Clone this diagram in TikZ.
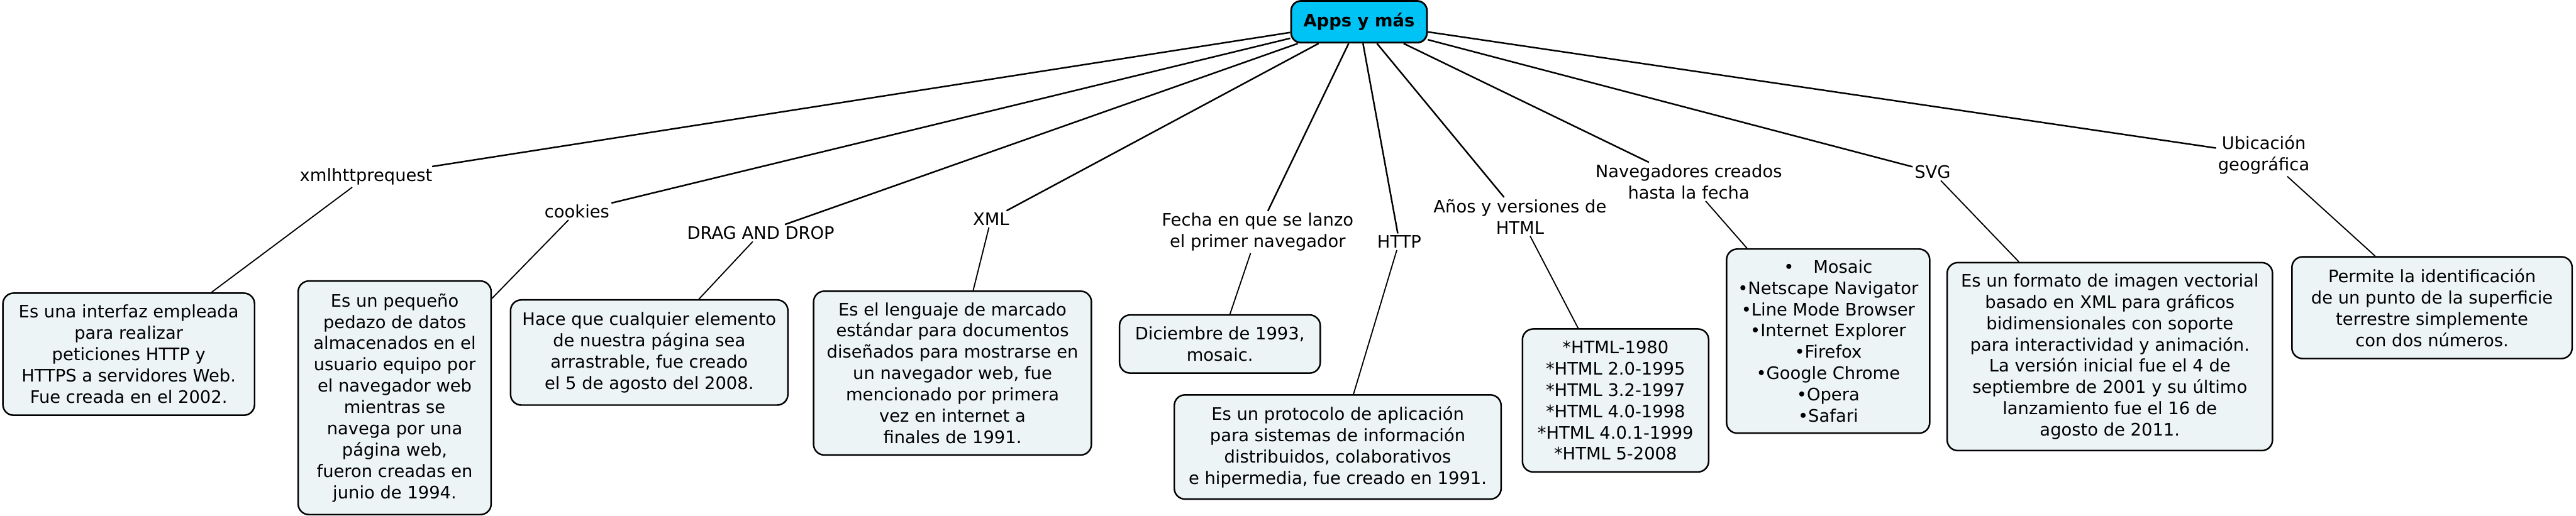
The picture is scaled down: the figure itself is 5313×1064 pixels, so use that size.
\documentclass[tikz,border=0pt]{standalone}
\usepackage{fontspec}
\setmainfont{DejaVu Sans}
\definecolor{boxfill}{RGB}{237,244,246}
\definecolor{rootfill}{RGB}{0,195,245}
\begin{document}
\begin{tikzpicture}[x=1pt,y=-1pt,
  every node/.style={font=\fontsize{35.5}{44}\selectfont, align=center},
  concept/.style={draw=black, line width=3.2pt, fill=boxfill, rounded corners=22pt, inner sep=0pt},
  rootbox/.style={draw=black, line width=3.6pt, fill=rootfill, rounded corners=20pt, inner sep=0pt,
    font=\fontsize{35.5}{44}\selectfont\bfseries, minimum width=280pt, minimum height=86pt},
  linklabel/.style={inner sep=4pt},
  upline/.style={line width=3.2pt},
  downline/.style={line width=2.4pt}]
\useasboundingbox (0,0) rectangle (5313,1064);

% root
\node[rootbox] (root) at (2803,45) {Apps y más};

% link labels
\node[linklabel] (l1) at (755,365) {xmlhttprequest};
\node[linklabel] (l2) at (1190,436) {cookies};
\node[linklabel] (l3) at (1569,481) {DRAG AND DROP};
\node[linklabel] (l4) at (2044,452) {XML};
\node[linklabel] (l5) at (2594,479) {Fecha en que se lanzo\\el primer navegador};
\node[linklabel] (l6) at (2886,499) {HTTP};
\node[linklabel] (l7) at (3135,447) {Años y versiones de\\HTML};
\node[linklabel] (l8) at (3483,375) {Navegadores creados\\hasta la fecha};
\node[linklabel] (l9) at (3986,355) {SVG};
\node[linklabel] (l10) at (4669,320) {Ubicación\\geográfica};

% concept boxes
\node[concept, minimum width=519pt, minimum height=252pt] (b1) at (265.5,731)
  {Es una interfaz empleada\\para realizar\\peticiones HTTP y\\HTTPS a servidores Web.\\Fue creada en el 2002.};
\node[concept, minimum width=398pt, minimum height=482pt] (b2) at (814,821)
  {Es un pequeño\\pedazo de datos\\almacenados en el\\usuario equipo por\\el navegador web\\mientras se\\navega por una\\página web,\\fueron creadas en\\junio de 1994.};
\node[concept, minimum width=572pt, minimum height=217pt] (b3) at (1339,727.5)
  {Hace que cualquier elemento\\de nuestra página sea\\arrastrable, fue creado\\el 5 de agosto del 2008.};
\node[concept, minimum width=573pt, minimum height=338pt] (b4) at (1964.5,770)
  {Es el lenguaje de marcado\\estándar para documentos\\diseñados para mostrarse en\\un navegador web, fue\\mencionado por primera\\vez en internet a\\finales de 1991.};
\node[concept, minimum width=414pt, minimum height=120pt] (b5) at (2516,710)
  {Diciembre de 1993,\\mosaic.};
\node[concept, minimum width=674pt, minimum height=215pt] (b6) at (2759,922.5)
  {Es un protocolo de aplicación\\para sistemas de información\\distribuidos, colaborativos\\e hipermedia, fue creado en 1991.};
\node[concept, minimum width=384pt, minimum height=295pt] (b7) at (3332,826.5)
  {*HTML-1980\\*HTML 2.0-1995\\*HTML 3.2-1997\\*HTML 4.0-1998\\*HTML 4.0.1-1999\\*HTML 5-2008};
\node[concept, minimum width=419pt, minimum height=380pt] (b8) at (3770.5,704)
  {•\hspace{40pt}Mosaic\\•Netscape Navigator\\•Line Mode Browser\\•Internet Explorer\\•Firefox\\•Google Chrome\\•Opera\\•Safari};
\node[concept, minimum width=671pt, minimum height=388pt] (b9) at (4351.5,736)
  {Es un formato de imagen vectorial\\basado en XML para gráficos\\bidimensionales con soporte\\para interactividad y animación.\\La versión inicial fue el 4 de\\septiembre de 2001 y su último\\lanzamiento fue el 16 de\\agosto de 2011.};
\node[concept, minimum width=578pt, minimum height=210pt] (b10) at (5016,635)
  {Permite la identificación\\de un punto de la superficie\\terrestre simplemente\\con dos números.};

% connectors
\foreach \i in {1,...,10} {
  \draw[upline] (root) -- (l\i);
  \draw[downline] (l\i) -- (b\i);
}
\end{tikzpicture}
\end{document}
